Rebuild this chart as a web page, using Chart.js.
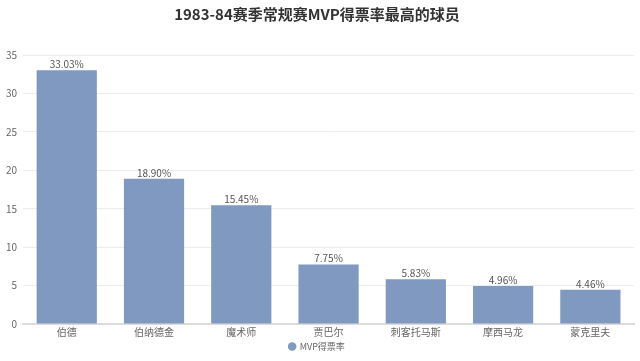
<!DOCTYPE html>
<html><head><meta charset="utf-8">
<script src="https://cdn.jsdelivr.net/npm/chart.js@4/dist/chart.umd.min.js"></script>
<style>html,body{margin:0;padding:0;background:#fff}#wrap{width:640px;height:361px}</style>
</head><body><div id="wrap"><canvas id="c" width="640" height="361"></canvas></div>
<script>
const categories = ["伯德","伯纳德金","魔术师","贾巴尔","刺客托马斯","摩西马龙","蒙克里夫"];
const mvpShare = [33.03, 18.90, 15.45, 7.75, 5.83, 4.96, 4.46];
const yTicks = [0,5,10,15,20,25,30,35];
const FONT = '"Noto Sans CJK SC", "Noto Sans", sans-serif';

const labelPlugin = {
  id: 'valLabels',
  afterDatasetsDraw(chart) {
    const ctx = chart.ctx;
    const meta = chart.getDatasetMeta(0);
    ctx.save();
    ctx.font = '10px ' + FONT;
    ctx.fillStyle = '#555';
    ctx.textAlign = 'center';
    ctx.textBaseline = 'bottom';
    meta.data.forEach((bar, i) => {
      ctx.fillText(mvpShare[i].toFixed(2) + '%', bar.x, bar.y - 1);
    });
    ctx.restore();
  }
};

new Chart(document.getElementById('c'), {
  type: 'bar',
  data: {
    labels: categories,
    datasets: [{
      label: 'MVP得票率',
      data: mvpShare,
      backgroundColor: '#7f99c0',
      borderColor: '#7f99c0',
      borderWidth: 0,
      categoryPercentage: 0.69,
      barPercentage: 1.0
    }]
  },
  options: {
    responsive: false,
    animation: false,
    layout: { padding: { left: 0, right: 6, top: 0, bottom: 0 } },
    plugins: {
      title: {
        display: true,
        text: '1983-84赛季常规赛MVP得票率最高的球员',
        color: '#333',
        font: { family: FONT, size: 15, weight: 'bold' },
        padding: { top: 5, bottom: 32 }
      },
      legend: {
        position: 'bottom',
        labels: {
          usePointStyle: true,
          pointStyle: 'circle',
          boxWidth: 6, boxHeight: 6,
          color: '#666',
          font: { family: FONT, size: 9 },
          padding: 2
        }
      },
      tooltip: { enabled: false }
    },
    scales: {
      y: {
        min: 0, max: 35,
        afterBuildTicks(axis) { axis.ticks = yTicks.map(v => ({ value: v })); },
        grid: { color: '#ececec', drawTicks: false },
        border: { display: false },
        ticks: { color: '#666', font: { family: FONT, size: 10 }, padding: 6 }
      },
      x: {
        grid: { display: false, drawTicks: false, tickLength: 0 },
        border: { color: '#dcdcdc', width: 2 },
        ticks: { color: '#666', font: { family: FONT, size: 10 }, padding: 2 }
      }
    }
  },
  plugins: [labelPlugin]
});
</script></body></html>
